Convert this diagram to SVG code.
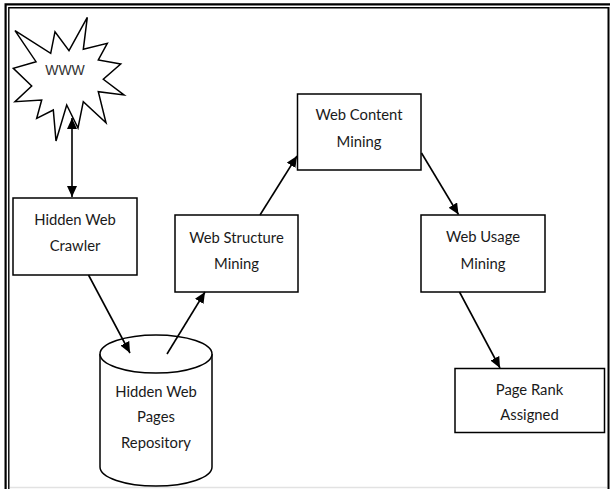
<svg xmlns="http://www.w3.org/2000/svg" width="610" height="489" viewBox="0 0 610 489">
<style>
.box{fill:#fff;stroke:#000;stroke-width:1.5}
.lbl{font-family:Lato,"Liberation Sans",sans-serif;font-size:14.8px;fill:#1a1a1a;text-anchor:middle}
.www{font-family:"Liberation Sans",Arial,sans-serif;font-size:14px;fill:#333;text-anchor:middle}
.conn{stroke:#000;stroke-width:1.6;fill:none}
.frame{stroke:#000;fill:none}
</style>
<defs>
<marker id="ah" markerUnits="userSpaceOnUse" markerWidth="12" markerHeight="10" refX="11" refY="5" orient="auto-start-reverse">
<path d="M0,0 L11,5 L0,10 z" fill="#000"/>
</marker>
</defs>
<rect width="610" height="489" fill="#fff"/>
<g id="frame">
<path class="frame" stroke-width="2.2" d="M5.6,489 V4.4 H610"/>
<path class="frame" stroke-width="1.4" d="M8.8,489 V7.8 H608"/>
<path class="frame" stroke-width="2" d="M608.5,7 V489"/>
<line x1="10" y1="487.5" x2="607" y2="487.5" stroke="#e2e2e2" stroke-width="1.5"/>
</g>
<g id="www">
<polygon class="box" points="15,30.7 50.7,53.3 55,31.7 69,50.7 87.3,17.3 83.3,49.3 107.3,43.3 98.3,60 120.7,64 103.3,79.3 124,95 98.3,91.7 106,122.7 83.3,101.7 78,128 66.7,105 56,141 53.3,110 36.7,118.3 41.7,100 15,101.7 31.7,86 13.3,68.3 36,61.7"/>
<text class="www" x="65" y="75">WWW</text>
</g>
<g id="crawler">
<rect class="box" x="13" y="198" width="124" height="77"/>
<text class="lbl" x="75" y="225">Hidden Web</text>
<text class="lbl" x="75" y="251">Crawler</text>
</g>
<g id="repository">
<path class="box" d="M100,354 V467 A56,19 0 0 0 212,467 V354"/>
<ellipse class="box" cx="156" cy="354" rx="56" ry="19"/>
<text class="lbl" x="156" y="397">Hidden Web</text>
<text class="lbl" x="156" y="422">Pages</text>
<text class="lbl" x="156" y="448">Repository</text>
</g>
<g id="structure">
<rect class="box" x="175" y="215" width="123" height="77"/>
<text class="lbl" x="236.5" y="243">Web Structure</text>
<text class="lbl" x="236.5" y="268.5">Mining</text>
</g>
<g id="content">
<rect class="box" x="297.5" y="94" width="123.5" height="76"/>
<text class="lbl" x="359" y="120">Web Content</text>
<text class="lbl" x="359" y="146.5">Mining</text>
</g>
<g id="usage">
<rect class="box" x="421" y="215" width="124" height="77"/>
<text class="lbl" x="483" y="242">Web Usage</text>
<text class="lbl" x="483" y="268.5">Mining</text>
</g>
<g id="pagerank">
<rect class="box" x="455" y="368.5" width="149.5" height="64"/>
<text class="lbl" x="529.5" y="395">Page Rank</text>
<text class="lbl" x="529.5" y="420">Assigned</text>
</g>
<g id="connectors">
<line class="conn" x1="72" y1="118" x2="72" y2="197" marker-start="url(#ah)" marker-end="url(#ah)"/>
<line class="conn" x1="88.5" y1="275" x2="130" y2="353" marker-end="url(#ah)"/>
<line class="conn" x1="167" y1="354" x2="205" y2="292" marker-end="url(#ah)"/>
<line class="conn" x1="260" y1="215" x2="297" y2="156" marker-end="url(#ah)"/>
<line class="conn" x1="421.5" y1="153" x2="458.5" y2="214.5" marker-end="url(#ah)"/>
<line class="conn" x1="459.5" y1="292" x2="500" y2="368" marker-end="url(#ah)"/>
</g>
</svg>
